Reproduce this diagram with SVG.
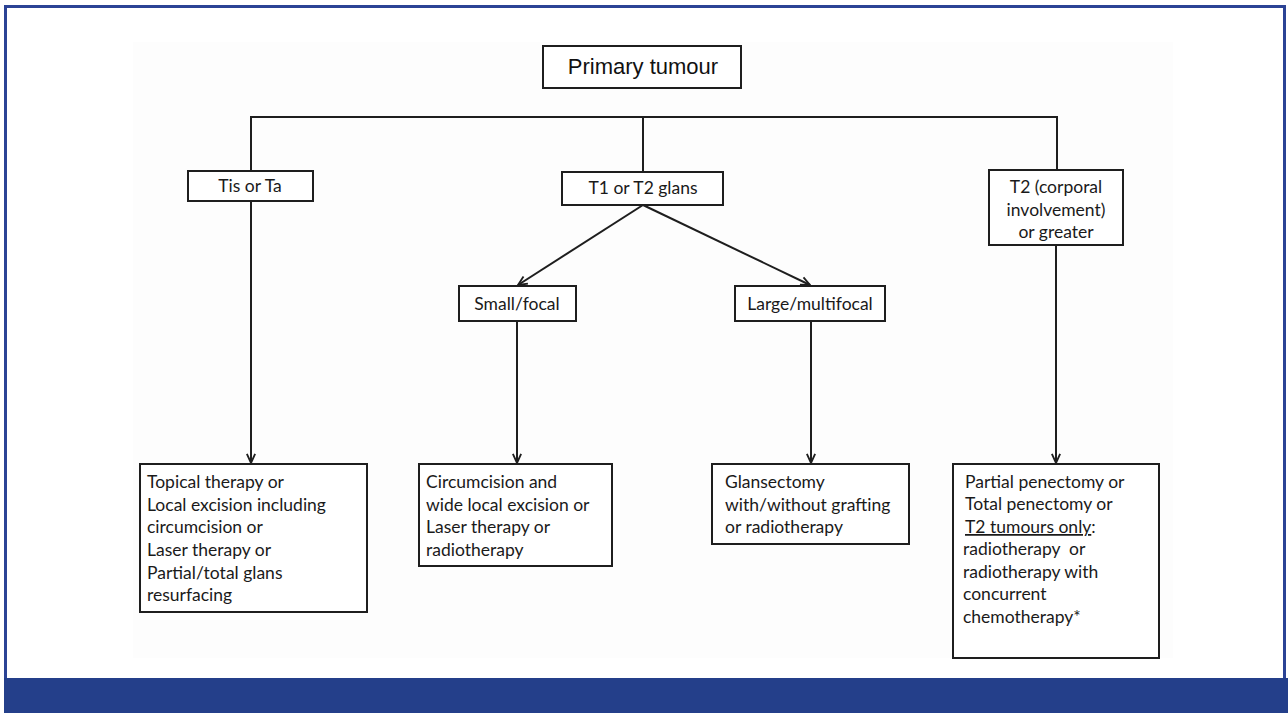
<svg xmlns="http://www.w3.org/2000/svg" width="1288" height="713" viewBox="0 0 1288 713">
<style>
.box{fill:#fff;stroke:#1e1e1e;stroke-width:2}
.ln{fill:none;stroke:#1e1e1e;stroke-width:2}
.ar{fill:none;stroke:#1e1e1e;stroke-width:2;marker-end:url(#ah)}
.c{font-family:Lato,"Open Sans",sans-serif;font-size:17.5px;fill:#1a1a1a}
.a{font-family:"Liberation Sans",Arial,sans-serif;font-size:22px;fill:#111}
.m{text-anchor:middle}
</style>
<defs>
<marker id="ah" viewBox="0 0 12 12" refX="11" refY="6" markerWidth="11" markerHeight="11" markerUnits="userSpaceOnUse" orient="auto">
<polyline points="1,1.5 11,6 1,10.5" fill="none" stroke="#1e1e1e" stroke-width="2"/>
</marker>
</defs>
<rect x="0" y="0" width="1288" height="713" fill="#fff"/>
<rect x="133" y="42" width="1040" height="616" fill="#fdfdfd"/>
<rect x="5.5" y="6.5" width="1279" height="690" fill="none" stroke="#2b4395" stroke-width="3"/>
<rect x="4" y="678" width="1284" height="35" fill="#243f8a"/>
<g id="connectors">
<polyline class="ln" points="251,170 251,117 1057,117 1057,170"/>
<line class="ln" x1="643" y1="117" x2="643" y2="172"/>
<line class="ar" x1="251" y1="201" x2="251" y2="463"/>
<line class="ar" x1="643" y1="205" x2="518" y2="285"/>
<line class="ar" x1="643" y1="205" x2="810" y2="285"/>
<line class="ar" x1="517" y1="321" x2="517" y2="463"/>
<line class="ar" x1="811" y1="321" x2="811" y2="463"/>
<line class="ar" x1="1056" y1="245" x2="1056" y2="463"/>
</g>
<g id="primary"><rect class="box" x="543" y="46" width="198" height="42"/><text class="a m" x="643" y="74">Primary tumour</text></g>
<g id="tis"><rect class="box" x="188" y="171" width="125" height="30"/><text class="c m" x="250" y="192">Tis or Ta</text></g>
<g id="t1t2"><rect class="box" x="562" y="172" width="161" height="33"/><text class="c m" x="643" y="194">T1 or T2 glans</text></g>
<g id="t2"><rect class="box" x="989" y="170" width="134" height="75"/><text class="c m" x="1056" y="193">T2 (corporal</text><text class="c m" x="1056" y="216">involvement)</text><text class="c m" x="1056" y="238">or greater</text></g>
<g id="small"><rect class="box" x="459" y="286" width="117" height="35"/><text class="c m" x="517" y="310">Small/focal</text></g>
<g id="large"><rect class="box" x="735" y="286" width="150" height="35"/><text class="c m" x="810" y="310">Large/multifocal</text></g>
<g id="tx1"><rect class="box" x="140" y="464" width="227" height="148"/>
<text class="c" x="147" y="488">Topical therapy or</text>
<text class="c" x="147" y="511">Local excision including</text>
<text class="c" x="147" y="533">circumcision or</text>
<text class="c" x="147" y="556">Laser therapy or</text>
<text class="c" x="147" y="579">Partial/total glans</text>
<text class="c" x="147" y="601">resurfacing</text></g>
<g id="tx2"><rect class="box" x="419" y="464" width="193" height="102"/>
<text class="c" x="426" y="488">Circumcision and</text>
<text class="c" x="426" y="511">wide local excision or</text>
<text class="c" x="426" y="533">Laser therapy or</text>
<text class="c" x="426" y="556">radiotherapy</text></g>
<g id="tx3"><rect class="box" x="712" y="464" width="197" height="80"/>
<text class="c" x="725" y="488">Glansectomy</text>
<text class="c" x="725" y="511">with/without grafting</text>
<text class="c" x="725" y="533">or radiotherapy</text></g>
<g id="tx4"><rect class="box" x="953" y="464" width="206" height="194"/>
<text class="c" x="965" y="488">Partial penectomy or</text>
<text class="c" x="965" y="510">Total penectomy or</text>
<text class="c" x="965" y="533"><tspan text-decoration="underline">T2 tumours only</tspan>:</text>
<text class="c" x="963" y="555" xml:space="preserve">radiotherapy  or</text>
<text class="c" x="963" y="578">radiotherapy with</text>
<text class="c" x="963" y="600">concurrent</text>
<text class="c" x="963" y="623">chemotherapy*</text></g>
</svg>
